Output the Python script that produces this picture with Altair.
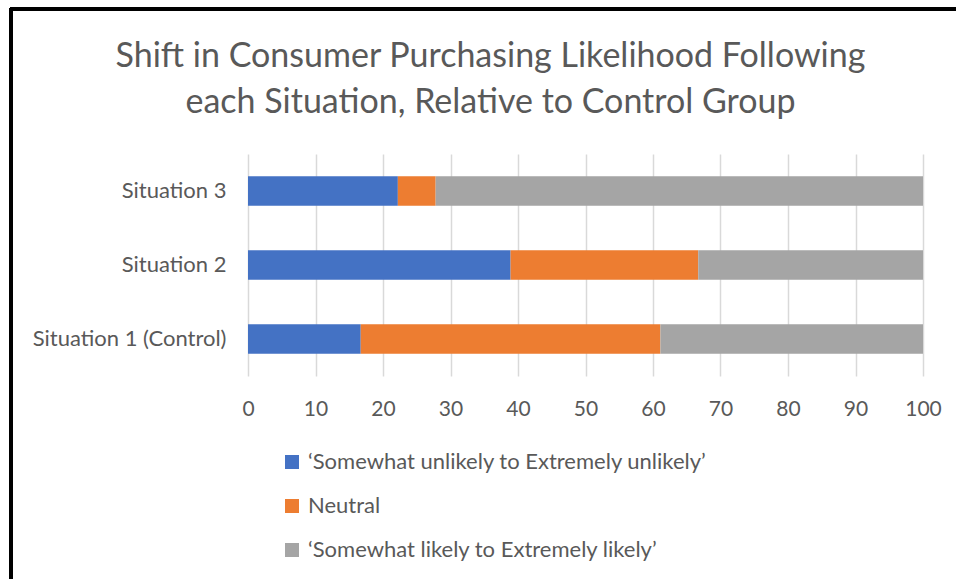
import altair as alt
import pandas as pd

situations = ["Situation 1 (Control)", "Situation 2", "Situation 3"]
categories = ["\u2018Somewhat unlikely to Extremely unlikely\u2019", "Neutral",
              "\u2018Somewhat likely to Extremely likely\u2019"]
unlikely = [16.7, 38.9, 22.2]
neutral = [44.4, 27.8, 5.6]
likely = [38.9, 33.3, 72.2]
colors = ["#4472C4", "#ED7D31", "#A5A5A5"]

rows = []
for i, s in enumerate(situations):
    for j, (c, v) in enumerate(zip(categories, [unlikely[i], neutral[i], likely[i]])):
        rows.append({"situation": s, "category": c, "value": v, "order": j})
df = pd.DataFrame(rows)

FONT = "Lato"
TXT = "#595959"

bars = alt.Chart(df).mark_bar().encode(
    y=alt.Y("situation:N", sort=["Situation 3", "Situation 2", "Situation 1 (Control)"],
            scale=alt.Scale(paddingInner=0.6, paddingOuter=0.3),
            axis=alt.Axis(title=None, domain=False, ticks=False, labelFontSize=22,
                          labelColor=TXT, labelFont=FONT, labelPadding=22, grid=False,
                          labelLimit=0)),
    x=alt.X("value:Q", stack="zero", scale=alt.Scale(domain=[0, 100], nice=False),
            axis=alt.Axis(title=None, values=list(range(0, 101, 10)), domain=False, ticks=False,
                          labelFontSize=21, labelColor=TXT, labelFont=FONT, labelPadding=22,
                          labelFlush=False, labelOverlap=False,
                          grid=True, gridColor="#D9D9D9", gridWidth=1.5)),
    color=alt.Color("category:N", sort=categories,
                    scale=alt.Scale(domain=categories, range=colors),
                    legend=alt.Legend(title=None, orient="none", legendX=33, legendY=297,
                                      direction="vertical", symbolType="square",
                                      symbolSize=196, symbolStrokeWidth=0,
                                      labelFontSize=22, labelColor=TXT, labelFont=FONT,
                                      rowPadding=22, padding=0, labelOffset=5,
                                      labelLimit=0)),
    order=alt.Order("order:Q"),
)

border_top = alt.Chart(df).mark_rule(color="#000000", strokeWidth=3).encode(
    x=alt.value(-238), x2=alt.value(720), y=alt.value(-145))
border_left = alt.Chart(df).mark_rule(color="#000000", strokeWidth=3).encode(
    x=alt.value(-237), y=alt.value(-146), y2=alt.value(440))

chart = alt.layer(bars, border_top, border_left).properties(
    width=675, height=222,
    background="white",
    title=alt.TitleParams(
        text=["Shift in Consumer Purchasing Likelihood Following",
              "each Situation, Relative to Control Group"],
        fontSize=34, font=FONT, color=TXT, fontWeight="normal",
        anchor="middle", frame="group", dx=-95, offset=-113, lineHeight=46),
    autosize=alt.AutoSizeParams(type="none"),
    padding={"left": 248, "top": 154, "right": 33, "bottom": 203},
).configure_view(stroke=None)

chart.save("out.html", embed_options={"renderer": "svg", "actions": False})
